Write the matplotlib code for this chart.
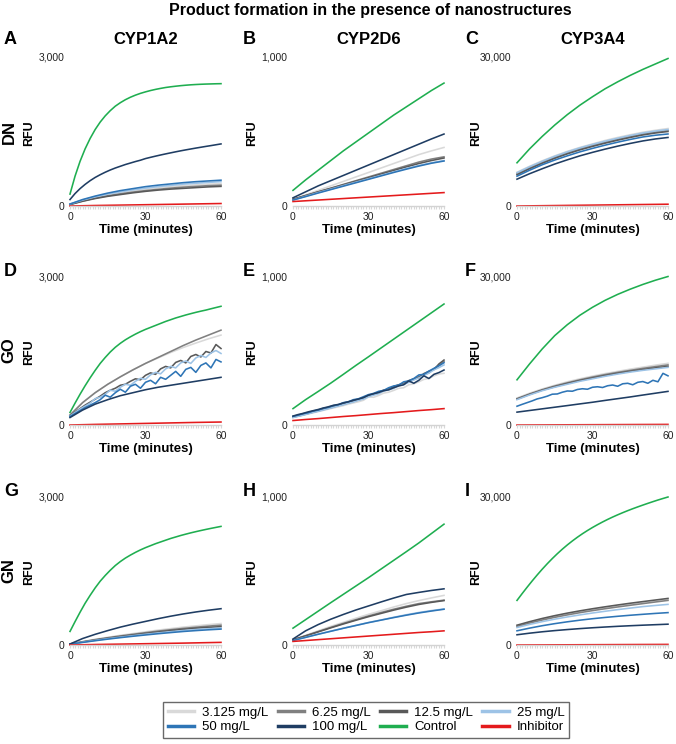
import matplotlib
matplotlib.use('Agg')
import matplotlib.pyplot as plt
from matplotlib.lines import Line2D

plt.rcParams['font.family'] = ['Liberation Sans', 'DejaVu Sans']

# time grids (minutes): most series every 5 min, noisy / sharply bent ones every 2 min
t5 = list(range(0, 61, 5))
t2 = list(range(0, 61, 2))

series = ['3.125 mg/L', '6.25 mg/L', '12.5 mg/L', '25 mg/L',
          '50 mg/L', '100 mg/L', 'Control', 'Inhibitor']
colors = ['#d9d9d9', '#808080', '#595959', '#9dc3e6',
          '#2e75b6', '#1f3d63', '#1fae50', '#e41a1c']

enzymes = ['CYP1A2', 'CYP2D6', 'CYP3A4']
materials = ['DN', 'GO', 'GN']
ymax = [3000, 1000, 30000]
letters = ['A', 'B', 'C', 'D', 'E', 'F', 'G', 'H', 'I']

# DN / CYP1A2
panel_A = {
    '3.125 mg/L': [30, 110, 170, 220, 265, 300, 335, 365, 390, 410, 425, 440, 450],
    '6.25 mg/L': [30, 100, 160, 205, 245, 280, 310, 335, 360, 380, 395, 410, 420],
    '12.5 mg/L': [30, 95, 150, 195, 230, 265, 295, 320, 340, 355, 370, 385, 395],
    '25 mg/L': [40, 120, 185, 240, 285, 325, 360, 390, 415, 440, 458, 475, 490],
    '50 mg/L': [40, 130, 200, 260, 310, 350, 390, 420, 445, 470, 490, 505, 520],
    '100 mg/L': [130, 250, 350, 435, 510, 575, 630, 680, 725, 765, 800, 835, 865, 895, 922, 955,
                 980, 1004, 1027, 1049, 1070, 1091, 1111, 1130, 1148, 1166, 1183, 1200, 1216, 1233, 1250],
    'Control': [240, 600, 900, 1150, 1360, 1540, 1690, 1815, 1920, 2010, 2080, 2140, 2190, 2232, 2268, 2298,
                2325, 2348, 2368, 2386, 2400, 2412, 2423, 2432, 2440, 2446, 2451, 2455, 2458, 2461, 2463],
    'Inhibitor': [0, 5, 10, 14, 18, 22, 26, 30, 34, 38, 42, 46, 50],
}
# DN / CYP2D6
panel_B = {
    '3.125 mg/L': [45, 75, 105, 135, 165, 195, 225, 255, 285, 315, 345, 370, 393],
    '6.25 mg/L': [45, 70, 95, 120, 145, 170, 195, 220, 245, 270, 295, 315, 330],
    '12.5 mg/L': [45, 70, 95, 118, 142, 166, 190, 214, 238, 262, 285, 305, 322],
    '25 mg/L': [40, 65, 90, 113, 137, 160, 183, 206, 229, 252, 272, 290, 305],
    '50 mg/L': [40, 63, 87, 110, 133, 156, 179, 202, 225, 247, 268, 287, 302],
    '100 mg/L': [55, 95, 135, 170, 205, 240, 275, 310, 345, 380, 415, 450, 483],
    'Control': [105, 175, 240, 305, 370, 430, 490, 550, 610, 665, 720, 775, 825],
    'Inhibitor': [30, 35, 40, 45, 50, 55, 60, 65, 70, 75, 80, 85, 90],
}
# DN / CYP3A4
panel_C = {
    '3.125 mg/L': [6800, 8000, 9100, 10100, 11000, 11800, 12500, 13200, 13800, 14350, 14850, 15250, 15600],
    '6.25 mg/L': [6500, 7700, 8800, 9800, 10700, 11500, 12200, 12850, 13450, 14000, 14500, 14900, 15200],
    '12.5 mg/L': [6300, 7500, 8600, 9600, 10500, 11300, 12000, 12650, 13250, 13800, 14300, 14700, 15000],
    '25 mg/L': [6700, 7900, 9000, 10000, 10900, 11700, 12400, 13050, 13650, 14200, 14700, 15100, 15400],
    '50 mg/L': [6000, 7200, 8300, 9250, 10100, 10900, 11600, 12250, 12850, 13400, 13900, 14250, 14500],
    '100 mg/L': [5400, 6500, 7500, 8450, 9300, 10100, 10800, 11450, 12050, 12600, 13100, 13500, 13800],
    'Control': [8700, 11500, 14000, 16300, 18400, 20300, 22000, 23600, 25000, 26300, 27500, 28600, 29700],
    'Inhibitor': [0, 30, 60, 90, 120, 150, 180, 210, 240, 270, 300, 330, 360],
}
# GO / CYP1A2
panel_D = {
    '3.125 mg/L': [200, 450, 650, 820, 970, 1110, 1240, 1350, 1460, 1560, 1650, 1735, 1810],
    '6.25 mg/L': [200, 450, 650, 820, 970, 1110, 1240, 1360, 1480, 1600, 1710, 1810, 1910],
    '12.5 mg/L': [190, 260, 330, 400, 460, 520, 580, 650, 700, 740, 800, 820, 880, 930, 910, 1000,
                  1050, 1020, 1130, 1180, 1150, 1260, 1300, 1250, 1380, 1420, 1370, 1480, 1450, 1620, 1540],
    '25 mg/L': [180, 250, 320, 380, 440, 530, 560, 620, 700, 680, 760, 820, 800, 880, 940, 920,
                1010, 1060, 1030, 1130, 1180, 1150, 1250, 1290, 1240, 1350, 1400, 1360, 1450, 1500, 1440],
    '50 mg/L': [170, 230, 290, 350, 400, 450, 510, 600, 560, 650, 720, 660, 780, 820, 740, 860,
                900, 830, 960, 920, 1000, 1080, 980, 1120, 1160, 1060, 1200, 1250, 1150, 1320, 1270],
    '100 mg/L': [150, 300, 420, 510, 590, 650, 710, 760, 800, 840, 880, 920, 960],
    'Control': [252, 440, 620, 790, 950, 1100, 1240, 1360, 1470, 1565, 1645, 1715, 1775, 1830, 1880, 1925,
                1965, 2005, 2045, 2085, 2120, 2155, 2185, 2215, 2242, 2268, 2292, 2314, 2340, 2365, 2390],
    'Inhibitor': [0, 6, 12, 17, 22, 27, 32, 37, 42, 47, 52, 56, 60],
}
# GO / CYP2D6
panel_E = {
    '3.125 mg/L': [50, 58, 66, 74, 82, 90, 98, 106, 114, 122, 130, 140, 148, 156, 166, 188,
                   186, 198, 214, 220, 232, 246, 250, 270, 276, 290, 306, 312, 330, 342, 347],
    '6.25 mg/L': [52, 60, 68, 77, 86, 94, 104, 112, 120, 131, 138, 148, 157, 168, 178, 196,
                  208, 214, 230, 242, 250, 268, 275, 292, 305, 325, 338, 350, 378, 400, 425],
    '12.5 mg/L': [55, 63, 72, 80, 88, 99, 106, 116, 124, 133, 143, 150, 162, 170, 183, 200,
                  205, 220, 234, 240, 258, 270, 278, 298, 310, 318, 345, 360, 372, 410, 436],
    '25 mg/L': [50, 58, 66, 75, 84, 92, 100, 110, 118, 128, 136, 146, 154, 166, 174, 190,
                200, 210, 228, 236, 246, 264, 272, 286, 302, 316, 332, 348, 370, 385, 403],
    '50 mg/L': [58, 66, 76, 82, 94, 100, 112, 118, 130, 136, 150, 156, 170, 176, 190, 204,
                212, 226, 232, 250, 262, 268, 290, 296, 312, 336, 340, 362, 380, 398, 418],
    '100 mg/L': [60, 70, 78, 88, 96, 104, 114, 122, 132, 138, 148, 156, 166, 174, 184, 200,
                 210, 218, 230, 236, 250, 262, 270, 296, 280, 300, 330, 312, 340, 352, 369],
    'Control': [110, 170, 225, 281, 340, 400, 458, 517, 576, 635, 694, 753, 812],
    'Inhibitor': [30, 37, 43, 50, 57, 63, 70, 77, 83, 90, 97, 103, 110],
}
# GO / CYP3A4
panel_F = {
    '3.125 mg/L': [5440, 6400, 7250, 8000, 8700, 9300, 9850, 10350, 10800, 11250, 11650, 12050, 12420],
    '6.25 mg/L': [5300, 6250, 7100, 7850, 8500, 9100, 9650, 10150, 10600, 11000, 11400, 11750, 12100],
    '12.5 mg/L': [5200, 6150, 7000, 7700, 8350, 8950, 9450, 9950, 10400, 10800, 11150, 11500, 11800],
    '25 mg/L': [5100, 6050, 6900, 7600, 8200, 8800, 9300, 9800, 10250, 10650, 11000, 11300, 11600],
    '50 mg/L': [3780, 4150, 4500, 4850, 5250, 5500, 5800, 6200, 6250, 6600, 6850, 6800, 7150, 7300, 7200, 7600,
                7700, 7550, 7900, 8050, 7800, 8300, 8400, 8100, 8600, 8750, 8400, 9000, 8700, 10400, 9900],
    '100 mg/L': [2590, 2920, 3250, 3580, 3910, 4250, 4580, 4950, 5300, 5650, 6030, 6400, 6770],
    'Control': [9100, 12300, 15300, 18000, 20200, 22100, 23700, 25100, 26300, 27350, 28300, 29150, 29900],
    'Inhibitor': [0, 10, 20, 30, 40, 50, 60, 70, 80, 90, 100, 110, 120],
}
# GN / CYP1A2
panel_G = {
    '3.125 mg/L': [20, 70, 115, 155, 195, 230, 265, 300, 330, 360, 385, 410, 432],
    '6.25 mg/L': [20, 65, 108, 146, 182, 215, 248, 280, 308, 335, 358, 380, 400],
    '12.5 mg/L': [20, 60, 100, 136, 170, 202, 232, 262, 290, 315, 338, 355, 370],
    '25 mg/L': [20, 56, 93, 127, 158, 188, 216, 243, 268, 292, 312, 328, 340],
    '50 mg/L': [20, 52, 86, 118, 148, 176, 202, 227, 250, 272, 290, 306, 320],
    '100 mg/L': [20, 130, 215, 290, 360, 420, 475, 530, 580, 625, 665, 700, 731],
    'Control': [273, 470, 660, 840, 1000, 1150, 1285, 1400, 1505, 1600, 1680, 1750, 1810, 1865, 1915, 1960,
                2000, 2040, 2075, 2110, 2145, 2175, 2205, 2232, 2258, 2282, 2305, 2327, 2348, 2368, 2388],
    'Inhibitor': [0, 5, 10, 14, 18, 22, 26, 30, 34, 38, 43, 48, 53],
}
# GN / CYP2D6
panel_H = {
    '3.125 mg/L': [35, 65, 95, 125, 152, 180, 206, 230, 255, 278, 298, 316, 333],
    '6.25 mg/L': [35, 62, 90, 118, 145, 170, 195, 218, 240, 260, 278, 290, 301],
    '12.5 mg/L': [35, 61, 88, 115, 141, 166, 190, 212, 234, 254, 272, 286, 298],
    '25 mg/L': [30, 52, 73, 93, 113, 132, 151, 168, 186, 203, 218, 231, 242],
    '50 mg/L': [30, 51, 72, 92, 112, 131, 150, 167, 184, 200, 215, 228, 240],
    '100 mg/L': [40, 95, 137, 173, 205, 235, 262, 289, 315, 339, 353, 366, 377],
    'Control': [113, 170, 227, 284, 340, 396, 452, 510, 568, 626, 685, 748, 811],
    'Inhibitor': [24, 30, 36, 42, 48, 54, 60, 66, 72, 78, 84, 89, 95],
}
# GN / CYP3A4
panel_I = {
    '3.125 mg/L': [3850, 4540, 5170, 5730, 6230, 6690, 7100, 7490, 7850, 8190, 8520, 8850, 9180],
    '6.25 mg/L': [3720, 4400, 5020, 5570, 6060, 6510, 6920, 7300, 7660, 8000, 8330, 8660, 8980],
    '12.5 mg/L': [3990, 4700, 5340, 5910, 6420, 6880, 7300, 7690, 8060, 8410, 8740, 9060, 9380],
    '25 mg/L': [3520, 4140, 4700, 5200, 5650, 6060, 6440, 6790, 7120, 7430, 7730, 7960, 8180],
    '50 mg/L': [2860, 3400, 3880, 4300, 4670, 5000, 5290, 5550, 5780, 5990, 6180, 6360, 6520],
    '100 mg/L': [2060, 2380, 2660, 2900, 3110, 3300, 3470, 3620, 3760, 3880, 3990, 4090, 4190],
    'Control': [8980, 10320, 11620, 12880, 14090, 15250, 16350, 17390, 18370, 19290, 20150, 20950, 21700,
                22400, 23050, 23660, 24230, 24770, 25280, 25760, 26210, 26640, 27050, 27440, 27810, 28170,
                28520, 28860, 29190, 29500, 29800],
    'Inhibitor': [0, 10, 20, 30, 40, 50, 60, 70, 80, 90, 100, 110, 120],
}

panels = [panel_A, panel_B, panel_C, panel_D, panel_E, panel_F, panel_G, panel_H, panel_I]

W, H = 676, 744
fig = plt.figure(figsize=(W / 100, H / 100), dpi=100)


def fx(x):
    return x / W


def fy(y):
    return 1 - y / H


col_left = [70, 293, 517]
row_top = [57, 276, 496]
ax_w, ax_h = 151, 149

fig.text(fx(370), fy(10), 'Product formation in the presence of nanostructures',
         ha='center', va='center', fontsize=11.5, fontweight='bold')

for r in range(3):
    for c in range(3):
        i = r * 3 + c
        left, top = col_left[c], row_top[r]
        ax = fig.add_axes([fx(left), fy(top + ax_h), ax_w / W, ax_h / H])
        data = panels[i]
        for name, col in zip(series, colors):
            vals = data[name]
            t = t5 if len(vals) == len(t5) else t2
            ax.plot(t, vals, color=col, lw=1.15, clip_on=False)

        ax.set_xlim(0, 60)
        ax.set_ylim(0, ymax[c])
        for s in ['top', 'right', 'left']:
            ax.spines[s].set_visible(False)
        ax.spines['bottom'].set_color('#d3d3d3')
        ax.spines['bottom'].set_linewidth(1.0)
        ax.set_xticks([0, 30, 60])
        ax.set_xticks(range(0, 61), minor=True)
        ax.tick_params(axis='x', which='both', length=2.5, color='#d8d8d8', width=0.8,
                       labelsize=7.5, pad=2, labelcolor='#222222')
        ax.set_yticks([0, ymax[c]])
        ax.set_yticklabels(['0', f'{ymax[c]:,}'])
        ax.tick_params(axis='y', length=0, labelsize=7.5, pad=4, labelcolor='#222222')
        ax.set_xlabel('Time (minutes)', fontsize=9.5, fontweight='bold', labelpad=1)

        mid = top + ax_h / 2
        fig.text(fx(left - 41), fy(mid + 2), 'RFU', rotation=90, ha='center', va='center',
                 fontsize=9, fontweight='bold')

        if r == 0:
            ly = 40
        else:
            ly = top - 5
        fig.text(fx([4, 243, 465][c]), fy(ly), letters[i], ha='left', va='center',
                 fontsize=13, fontweight='bold')

    fig.text(fx(9), fy(row_top[r] + ax_h / 2), materials[r], rotation=90,
             ha='center', va='center', fontsize=12, fontweight='bold')

for c in range(3):
    fig.text(fx(col_left[c] + ax_w / 2), fy(40), enzymes[c], ha='center', va='center',
             fontsize=12, fontweight='bold')

# legend, filled row by row like the original
handles = [Line2D([], [], color=col, lw=2.5) for col in colors]
order = [0, 4, 1, 5, 2, 6, 3, 7]
leg = fig.legend([handles[k] for k in order], [series[k] for k in order],
                 loc='center', bbox_to_anchor=(fx(366), fy(720)), ncol=4,
                 fontsize=9.5, frameon=True, fancybox=False, edgecolor='#444444',
                 handlelength=2.0, handletextpad=0.6, columnspacing=0.7,
                 borderpad=0.35, labelspacing=0.15)
leg.get_frame().set_linewidth(1.0)

fig.savefig('out.png', dpi=100)
